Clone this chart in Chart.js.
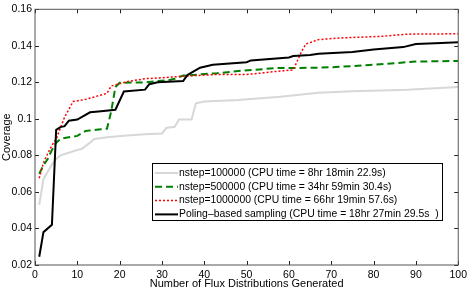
<!DOCTYPE html>
<html>
<head>
<meta charset="utf-8">
<script src="https://cdn.jsdelivr.net/npm/chart.js@4.4.1/dist/chart.umd.min.js"></script>
<style>
  html, body { margin: 0; padding: 0; background: #fff; }
  #wrap { width: 471px; height: 288px; }
</style>
</head>
<body>
<div id="wrap"><canvas id="coverage-chart" width="471" height="288"></canvas></div>
<script>
// series values (x = number of flux distributions)
const grayX = [1, 2, 3, 4, 5, 6, 10, 11, 13, 14, 17, 21, 26, 30, 31, 33, 34, 37, 38, 40, 48, 58, 67, 75, 88, 100];
const grayY = [0.053, 0.067, 0.071, 0.075, 0.078, 0.080, 0.083, 0.0835, 0.087, 0.089, 0.090, 0.0907, 0.0916, 0.092, 0.095, 0.0957, 0.0996, 0.0996, 0.1085, 0.1095, 0.1103, 0.1121, 0.1143, 0.1151, 0.116, 0.1175];

const greenX = [1, 2, 3, 4, 5, 6, 7, 10, 12, 15, 17, 18, 19, 20, 26, 29, 32, 33, 35, 43, 49, 57, 67, 72, 79, 85, 90, 100];
const greenY = [0.070, 0.0746, 0.078, 0.083, 0.087, 0.089, 0.0895, 0.0907, 0.0934, 0.0942, 0.0946, 0.104, 0.1175, 0.1198, 0.120, 0.1207, 0.1214, 0.122, 0.1237, 0.125, 0.1264, 0.1278, 0.128, 0.1285, 0.1295, 0.1305, 0.1314, 0.1317];

const redX = [1, 2, 3, 4, 5, 6, 7, 9, 12, 17, 18, 22, 26, 30, 35, 43, 50, 54, 57, 61, 62, 63, 64, 67, 72, 82, 88, 100];
const redY = [0.0675, 0.076, 0.081, 0.0855, 0.089, 0.095, 0.101, 0.1095, 0.1107, 0.114, 0.118, 0.1205, 0.122, 0.1225, 0.1234, 0.1243, 0.1243, 0.1252, 0.126, 0.1268, 0.1318, 0.137, 0.141, 0.1434, 0.1443, 0.1452, 0.1464, 0.1466];

const blackX = [1, 2, 4, 5, 6, 7, 8, 10, 13, 15, 19, 21, 26, 27, 29, 35, 36, 39, 42, 50, 51, 60, 61, 65, 67, 75, 80, 87, 90, 96, 100];
const blackY = [0.0245, 0.038, 0.042, 0.094, 0.0955, 0.096, 0.099, 0.0996, 0.1036, 0.104, 0.105, 0.115, 0.116, 0.119, 0.120, 0.1207, 0.124, 0.128, 0.1296, 0.131, 0.132, 0.1336, 0.1344, 0.135, 0.1357, 0.1366, 0.138, 0.1393, 0.141, 0.1416, 0.142];

const seriesLabels = [
  "nstep=100000 (CPU time = 8hr 18min 22.9s)",
  "nstep=500000 (CPU time = 34hr 59min 30.4s)",
  "nstep=1000000 (CPU time = 66hr 19min 57.6s)",
  "Poling\u2013based sampling (CPU time = 18hr 27min 29.5s  )"
];

const xTicks = [0, 10, 20, 30, 40, 50, 60, 70, 80, 90, 100];
const yTicks = [0.02, 0.04, 0.06, 0.08, 0.1, 0.12, 0.14, 0.16];

const FONT = "'Liberation Sans', Arial, Helvetica, sans-serif";

const toPoints = (xs, ys) => xs.map((x, i) => ({ x: x, y: ys[i] }));

// matlab style box with inward ticks on all four sides
const boxPlugin = {
  id: "box",
  afterDatasetsDraw(chart) {
    const ctx = chart.ctx;
    const a = chart.chartArea;
    const xs = chart.scales.x;
    const ys = chart.scales.y;
    ctx.save();
    ctx.strokeStyle = "#222";
    ctx.lineWidth = 1;
    ctx.beginPath();
    xTicks.forEach(function (v) {
      const px = Math.round(xs.getPixelForValue(v)) + 0.5;
      ctx.moveTo(px, a.bottom);
      ctx.lineTo(px, a.bottom - 4);
      ctx.moveTo(px, a.top);
      ctx.lineTo(px, a.top + 4);
    });
    yTicks.forEach(function (v) {
      const py = Math.round(ys.getPixelForValue(v)) + 0.5;
      ctx.moveTo(a.left, py);
      ctx.lineTo(a.left + 4, py);
      ctx.moveTo(a.right, py);
      ctx.lineTo(a.right - 4, py);
    });
    ctx.stroke();
    ctx.strokeStyle = "#555";
    ctx.strokeRect(a.left, a.top, a.right - a.left, a.bottom - a.top);
    ctx.restore();
  },
};

// legend box drawn inside the plot, lower right
const legendPlugin = {
  id: "boxLegend",
  afterDraw(chart) {
    const ctx = chart.ctx;
    const bx = 152, by = 163, bw = 290, bh = 57;
    ctx.save();
    ctx.fillStyle = "#fff";
    ctx.fillRect(bx, by, bw, bh);
    ctx.strokeStyle = "#000";
    ctx.lineWidth = 1;
    ctx.strokeRect(bx + 0.5, by + 0.5, bw, bh);
    ctx.font = "10.4px " + FONT;
    ctx.textBaseline = "middle";
    chart.data.datasets.forEach(function (ds, i) {
      const y = by + 10 + i * 13.8;
      ctx.strokeStyle = ds.borderColor;
      ctx.lineWidth = ds.borderWidth;
      ctx.setLineDash(ds.borderDash || []);
      ctx.beginPath();
      ctx.moveTo(bx + 3, y);
      ctx.lineTo(bx + 26, y);
      ctx.stroke();
      ctx.setLineDash([]);
      ctx.fillStyle = "#000";
      ctx.fillText(ds.label, bx + 27, y);
    });
    ctx.restore();
  },
};

const ctx = document.getElementById("coverage-chart").getContext("2d");
new Chart(ctx, {
  type: "line",
  data: {
    datasets: [
      {
        label: seriesLabels[0],
        data: toPoints(grayX, grayY),
        borderColor: "rgb(215,215,215)",
        borderWidth: 2,
        order: 3,
      },
      {
        label: seriesLabels[1],
        data: toPoints(greenX, greenY),
        borderColor: "rgb(0,128,0)",
        borderWidth: 2,
        borderDash: [7, 4],
        order: 2,
      },
      {
        label: seriesLabels[2],
        data: toPoints(redX, redY),
        borderColor: "rgb(255,0,0)",
        borderWidth: 1.5,
        borderDash: [2, 2],
        order: 1,
      },
      {
        label: seriesLabels[3],
        data: toPoints(blackX, blackY),
        borderColor: "#000",
        borderWidth: 2,
        order: 0,
      },
    ],
  },
  options: {
    responsive: false,
    animation: false,
    layout: { padding: { top: 4, right: 10, left: 0, bottom: 0 } },
    elements: {
      point: { radius: 0 },
      line: { tension: 0, fill: false, borderCapStyle: "butt" },
    },
    plugins: {
      legend: { display: false },
      tooltip: { enabled: false },
      title: { display: false },
    },
    scales: {
      x: {
        type: "linear",
        min: 0,
        max: 100,
        afterFit: (s) => { s.height = 23; },
        afterBuildTicks: (s) => { s.ticks = xTicks.map((v) => ({ value: v })); },
        grid: { display: false, drawTicks: false },
        border: { display: false },
        ticks: {
          padding: 4,
          maxRotation: 0,
          color: "#000",
          font: { family: FONT, size: 10.5 },
          callback: (v) => String(v),
        },
        title: {
          display: true,
          text: "Number of Flux Distributions Generated",
          color: "#000",
          padding: { top: 0, bottom: -3 },
          font: { family: FONT, size: 11 },
        },
      },
      y: {
        type: "linear",
        min: 0.02,
        max: 0.16,
        afterFit: (s) => { s.width = 35; },
        afterBuildTicks: (s) => { s.ticks = yTicks.map((v) => ({ value: v })); },
        grid: { display: false, drawTicks: false },
        border: { display: false },
        ticks: {
          padding: 3,
          color: "#000",
          font: { family: FONT, size: 10.5 },
          callback: (v) => (Math.round(v * 100) / 100).toString(),
        },
        title: {
          display: true,
          text: "Coverage",
          color: "#000",
          padding: 0,
          font: { family: FONT, size: 11 },
        },
      },
    },
  },
  plugins: [boxPlugin, legendPlugin],
});
</script>
</body>
</html>
